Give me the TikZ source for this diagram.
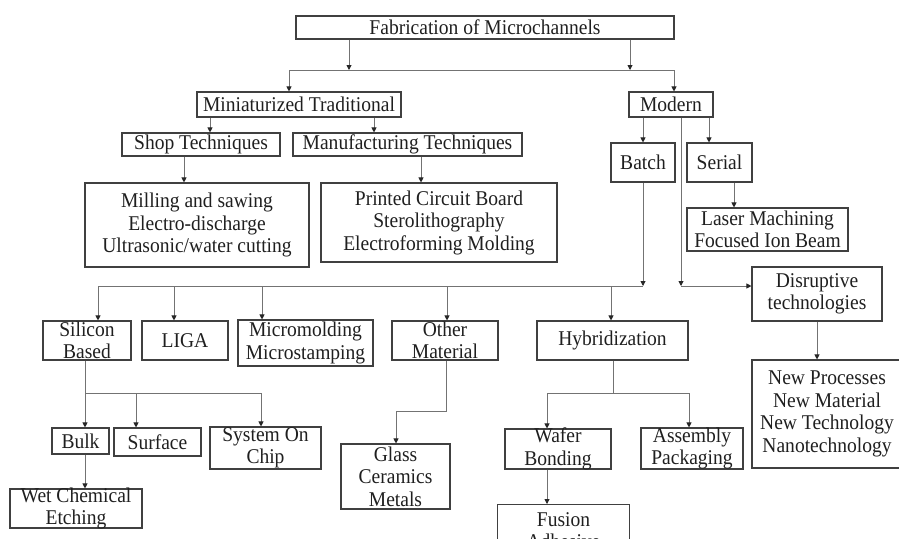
\documentclass[tikz,border=0pt]{standalone}
\usepackage{fontspec}
\setmainfont{Liberation Serif}[FakeStretch=0.93]
\usetikzlibrary{arrows.meta}
\begin{document}
\begin{tikzpicture}[x=1pt,y=-1pt,
  box/.style={draw=black!75,line width=1.1pt,rectangle,inner xsep=0pt,inner ysep=-3pt,align=center,
    font=\fontsize{21}{22.5}\selectfont,text=black!88},
  link/.style={draw=black!55,line width=0.9pt},
  arr/.style={link,-{Triangle[length=5pt,width=5pt,color=black!85,fill=black!85]}}]
\useasboundingbox (0,0) rectangle (899,538);
% boxes
\node[box,minimum width=378pt,minimum height=23pt] (fab) at (485,27.5) {Fabrication of Microchannels};
\node[box,minimum width=204pt,minimum height=25pt] (mini) at (299,104.5) {Miniaturized Traditional};
\node[box,minimum width=158pt,minimum height=23pt] (shop) at (201,144.5) {Shop Techniques};
\node[box,minimum width=229pt,minimum height=23pt] (manu) at (407.5,144.5) {Manufacturing Techniques};
\node[box,minimum width=84pt,minimum height=25pt] (modern) at (671,104.5) {Modern};
\node[box,minimum width=64pt,minimum height=39pt] (batch) at (643,162.5) {Batch};
\node[box,minimum width=65pt,minimum height=39pt] (serial) at (719.5,162.5) {Serial};
\node[box,minimum width=161pt,minimum height=43pt] (laser) at (767.5,229.5) {Laser Machining\\Focused Ion Beam};
\node[box,minimum width=130pt,minimum height=54pt] (disr) at (817,294) {Disruptive\\technologies};
\node[box,minimum width=150pt,minimum height=108pt] (newp) at (827,414) {New Processes\\New Material\\New Technology\\Nanotechnology};
\node[box,minimum width=224pt,minimum height=84pt] (mill) at (197,225) {Milling and sawing\\Electro-discharge\\Ultrasonic/water cutting};
\node[box,minimum width=236pt,minimum height=79pt] (pcb) at (439,222.5) {Printed Circuit Board\\Sterolithography\\Electroforming Molding};
\node[box,minimum width=88pt,minimum height=39pt] (sil) at (87,340.5) {Silicon\\Based};
\node[box,minimum width=86pt,minimum height=39pt] (liga) at (185,340.5) {LIGA};
\node[box,minimum width=135pt,minimum height=46pt] (micro) at (305.5,343) {Micromolding\\Microstamping};
\node[box,minimum width=106pt,minimum height=39pt] (other) at (445,340.5) {Other\\Material};
\node[box,minimum width=151pt,minimum height=39pt] (hyb) at (612.5,340.5) {Hybridization};
\node[box,minimum width=57pt,minimum height=26pt] (bulk) at (80.5,441) {Bulk};
\node[box,minimum width=87pt,minimum height=28pt] (surf) at (157.5,442) {Surface};
\node[box,minimum width=111pt,minimum height=42pt] (soc) at (265.5,448) {System On\\Chip};
\node[box,minimum width=132pt,minimum height=39pt] (wet) at (76,508.5) {Wet Chemical\\Etching};
\node[box,minimum width=109pt,minimum height=65pt] (glass) at (395.5,476.5) {Glass\\Ceramics\\Metals};
\node[box,minimum width=106pt,minimum height=40pt] (wafer) at (558,449) {Wafer\\Bonding};
\node[box,minimum width=102pt,minimum height=41pt] (assy) at (692,448.5) {Assembly\\Packaging};
\node[box,minimum width=132pt,minimum height=52pt,anchor=north] (fusion) at (563.5,504) {Fusion\\Adhesive};
% junction coordinates
\coordinate (fa) at (349,70);
\coordinate (fb) at (630,70);
\coordinate (ba) at (289,70);
\coordinate (bb) at (674,70);
\coordinate (xs) at (210,0);
\coordinate (xm) at (374,0);
\coordinate (xmill) at (184,0);
\coordinate (xpcb) at (421,0);
\coordinate (xser) at (709,0);
\coordinate (xlas) at (734,0);
\coordinate (dm) at (681,286);
\coordinate (bj) at (643,286);
\coordinate (bl) at (98,286);
\coordinate (b2) at (174,286);
\coordinate (b3) at (262,286);
\coordinate (b4) at (447,286);
\coordinate (b5) at (611,286);
\coordinate (s1) at (85,393);
\coordinate (s2) at (136,393);
\coordinate (s3) at (261,393);
\coordinate (o1) at (446,411);
\coordinate (o2) at (396,411);
\coordinate (h0) at (613,393);
\coordinate (h1) at (547,393);
\coordinate (h2) at (689,393);
% connectors
\draw[arr] (fab.south -| fa) -- (fa);
\draw[arr] (fab.south -| fb) -- (fb);
\draw[link] (ba) -- (bb);
\draw[arr] (ba) -- (ba |- mini.north);
\draw[arr] (bb) -- (bb |- modern.north);
\draw[arr] (mini.south -| xs) -- (shop.north -| xs);
\draw[arr] (mini.south -| xm) -- (manu.north -| xm);
\draw[arr] (shop.south -| xmill) -- (mill.north -| xmill);
\draw[arr] (manu.south -| xpcb) -- (pcb.north -| xpcb);
\draw[arr] (modern.south -| batch.north) -- (batch.north);
\draw[arr] (modern.south -| xser) -- (serial.north -| xser);
\draw[arr] (serial.south -| xlas) -- (laser.north -| xlas);
\draw[arr] (modern.south -| dm) -- (dm);
\draw[arr] (dm) -- (dm -| disr.west);
\draw[arr] (disr.south) -- (newp.north -| disr.south);
\draw[arr] (batch.south) -- (bj);
\draw[link] (bj) -- (bl);
\draw[arr] (bl) -- (bl |- sil.north);
\draw[arr] (b2) -- (b2 |- liga.north);
\draw[arr] (b3) -- (b3 |- micro.north);
\draw[arr] (b4) -- (b4 |- other.north);
\draw[arr] (b5) -- (b5 |- hyb.north);
\draw[link] (sil.south -| s1) -- (s1) -- (s3);
\draw[arr] (s1) -- (s1 |- bulk.north);
\draw[arr] (s2) -- (s2 |- surf.north);
\draw[arr] (s3) -- (s3 |- soc.north);
\draw[arr] (bulk.south -| s1) -- (wet.north -| s1);
\draw[arr] (other.south -| o1) -- (o1) -- (o2) -- (o2 |- glass.north);
\draw[link] (hyb.south -| h0) -- (h0);
\draw[link] (h1) -- (h2);
\draw[arr] (h1) -- (h1 |- wafer.north);
\draw[arr] (h2) -- (h2 |- assy.north);
\draw[arr] (wafer.south -| h1) -- (fusion.north -| h1);
\end{tikzpicture}
\end{document}
